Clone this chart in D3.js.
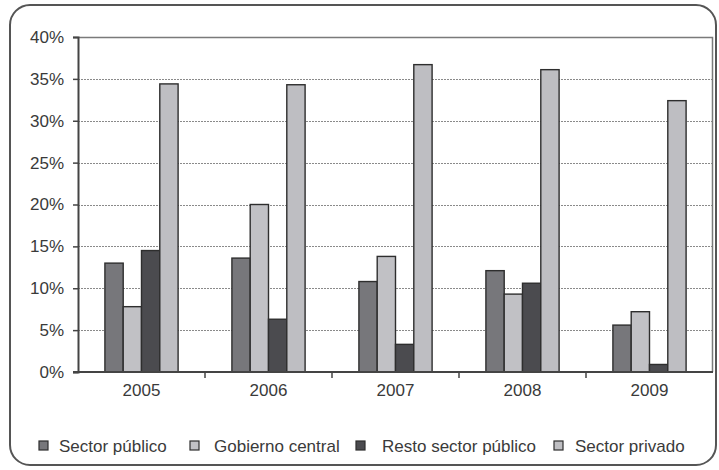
<!DOCTYPE html>
<html>
<head>
<meta charset="utf-8">
<script src="https://cdn.jsdelivr.net/npm/d3@7"></script>
<style>
  html, body { margin: 0; padding: 0; background: #fff; }
  svg { display: block; }
  text { font-family: "Liberation Sans", Arial, sans-serif; fill: #3a3a3a; }
</style>
</head>
<body>
<svg id="chart" width="719" height="470"></svg>
<script>
// Shares by year and sector (percent)
const years = ["2005", "2006", "2007", "2008", "2009"];
const seriesNames = ["Sector público", "Gobierno central", "Resto sector público", "Sector privado"];
const sectorPublico = [13.0, 13.6, 10.8, 12.1, 5.6];
const gobiernoCentral = [7.8, 20.0, 13.8, 9.3, 7.2];
const restoSectorPublico = [14.5, 6.3, 3.3, 10.6, 0.9];
const sectorPrivado = [34.4, 34.3, 36.7, 36.1, 32.4];
const yTicks = [0, 5, 10, 15, 20, 25, 30, 35, 40];
const seriesColors = ["#77777b", "#c1c1c5", "#4b4b4f", "#bebec2"];

const seriesValues = [sectorPublico, gobiernoCentral, restoSectorPublico, sectorPrivado];

const svg = d3.select("#chart");
const plot = { left: 78, right: 713, top: 37, bottom: 372 };

// Outer rounded frame
svg.append("rect")
  .attr("x", 10).attr("y", 5)
  .attr("width", 706).attr("height", 460)
  .attr("rx", 20).attr("ry", 20)
  .attr("fill", "#fff")
  .attr("stroke", "#555").attr("stroke-width", 2);

const y = d3.scaleLinear().domain([0, 40]).range([plot.bottom, plot.top]);
const x0 = d3.scaleBand().domain(years).range([plot.left, plot.right]).padding(0);
const x1 = d3.scaleBand().domain(seriesNames).range([0, x0.bandwidth()])
  .paddingInner(0).paddingOuter(1.47);
const color = d3.scaleOrdinal().domain(seriesNames).range(seriesColors);

// Dotted gridlines
svg.append("g")
  .selectAll("line")
  .data(yTicks.filter(t => t > 0 && t < 40))
  .join("line")
  .attr("x1", plot.left).attr("x2", plot.right)
  .attr("y1", d => Math.round(y(d)) + 0.5).attr("y2", d => Math.round(y(d)) + 0.5)
  .attr("stroke", "#8a8a8a").attr("stroke-width", 1)
  .attr("stroke-dasharray", "2,1");

// Plot area top and right border
svg.append("path")
  .attr("d", `M${plot.left},${plot.top + 0.5}H${plot.right - 0.5}V${plot.bottom}`)
  .attr("fill", "none").attr("stroke", "#7a7a7a").attr("stroke-width", 1.5);

// Bars
const groups = svg.append("g")
  .selectAll("g")
  .data(years)
  .join("g")
  .attr("transform", d => `translate(${x0(d)},0)`);

groups.selectAll("rect")
  .data((yr, i) => seriesNames.map((s, k) => ({ series: s, value: seriesValues[k][i] })))
  .join("rect")
  .attr("x", d => x1(d.series))
  .attr("y", d => y(d.value))
  .attr("width", x1.bandwidth())
  .attr("height", d => y(0) - y(d.value))
  .attr("fill", d => color(d.series))
  .attr("stroke", "#2e2e2e").attr("stroke-width", 1.4);

// Y axis
const yAxis = svg.append("g")
  .attr("transform", `translate(${plot.left},0)`)
  .call(d3.axisLeft(y).tickValues(yTicks).tickFormat(d => d + "%").tickSize(5).tickPadding(9));
yAxis.select(".domain").attr("stroke", "#444").attr("stroke-width", 2);
yAxis.selectAll(".tick line").attr("stroke", "#444").attr("stroke-width", 1.5);
yAxis.selectAll("text").attr("font-size", 17).attr("fill", "#3a3a3a")
  .attr("font-family", "'Liberation Sans', Arial, sans-serif");

// X axis with ticks between year groups
const xAxis = svg.append("g")
  .attr("transform", `translate(0,${plot.bottom})`);
xAxis.append("line")
  .attr("x1", plot.left - 5).attr("x2", plot.right)
  .attr("y1", 0).attr("y2", 0)
  .attr("stroke", "#444").attr("stroke-width", 2);
xAxis.selectAll(".sep")
  .data(years.slice(1))
  .join("line")
  .attr("class", "sep")
  .attr("x1", d => x0(d)).attr("x2", d => x0(d))
  .attr("y1", 0).attr("y2", 6)
  .attr("stroke", "#444").attr("stroke-width", 1.5);
xAxis.selectAll("text")
  .data(years)
  .join("text")
  .attr("x", d => x0(d) + x0.bandwidth() / 2)
  .attr("y", 24)
  .attr("text-anchor", "middle")
  .attr("font-size", 17)
  .text(d => d);

// Legend
const legendItems = [
  { name: seriesNames[0], box: 38, text: 59 },
  { name: seriesNames[1], box: 189, text: 214 },
  { name: seriesNames[2], box: 355, text: 382 },
  { name: seriesNames[3], box: 553, text: 575 }
];
const legend = svg.append("g").attr("transform", "translate(0,446)");
legend.selectAll("rect")
  .data(legendItems)
  .join("rect")
  .attr("x", d => d.box + 1).attr("y", -5)
  .attr("width", 9).attr("height", 9)
  .attr("fill", d => color(d.name))
  .attr("stroke", "#2e2e2e").attr("stroke-width", 1.2);
legend.selectAll("text")
  .data(legendItems)
  .join("text")
  .attr("x", d => d.text)
  .attr("y", 6)
  .attr("font-size", 17)
  .text(d => d.name);
</script>
</body>
</html>
